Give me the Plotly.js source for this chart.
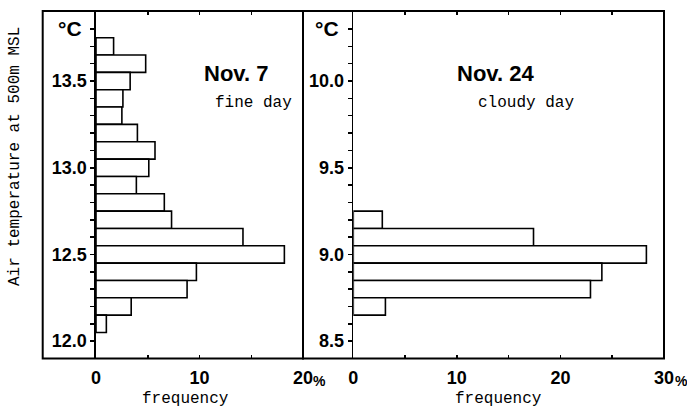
<!DOCTYPE html>
<html>
<head>
<meta charset="utf-8">
<script src="https://cdn.plot.ly/plotly-3.0.1.min.js"></script>
<style>html,body{margin:0;padding:0;background:#fff;}#chart{width:687px;height:407px;}</style>
</head>
<body>
<div id="chart"></div>
<script>
// Nov. 7 (fine day): temperature bin centers (°C) and frequency (%)
var tempsNov7 = [13.7, 13.6, 13.5, 13.4, 13.3, 13.2, 13.1, 13.0, 12.9, 12.8, 12.7, 12.6, 12.5, 12.4, 12.3, 12.2, 12.1];
var freqNov7  = [1.7, 4.8, 3.3, 2.6, 2.5, 4.0, 5.7, 5.1, 3.9, 6.6, 7.3, 14.2, 18.2, 9.7, 8.8, 3.4, 1.0];
// Nov. 24 (cloudy day)
var tempsNov24 = [9.2, 9.1, 9.0, 8.9, 8.8, 8.7];
var freqNov24  = [2.8, 17.4, 28.3, 24.0, 22.9, 3.1];
var xTicksLeft = [0, 10, 20];
var xTicksRight = [0, 10, 20, 30];
var xLabelsLeft = ['0', '10', '20'];
var xLabelsRight = ['0', '10', '20', '30'];

var W = 687, H = 407;
function px(x){ return x / W; }
function py(y){ return 1 - y / H; }

var BOLD = 'Liberation Sans, Arial, sans-serif';
var MONO = 'Liberation Mono, Courier New, monospace';

var barStyle = {color: '#ffffff', line: {color: '#000', width: 1.6}};

var traces = [
  {type: 'bar', orientation: 'h', x: freqNov7, y: tempsNov7, width: 0.1,
   marker: barStyle, xaxis: 'x', yaxis: 'y', hoverinfo: 'none'},
  {type: 'bar', orientation: 'h', x: freqNov24, y: tempsNov24, width: 0.1,
   marker: barStyle, xaxis: 'x2', yaxis: 'y2', hoverinfo: 'none'}
];

var fTop = 11, fBot = 358.5, fL = 42.7, fMid = 303, fR = 664;
var yDom = [py(fBot), py(fTop)];

function yAxis(anchor, r, t0){
  return {
    domain: yDom, anchor: anchor, range: r,
    tick0: t0, dtick: 0.5, tickformat: '.1f',
    ticks: 'outside', ticklen: 4, tickwidth: 1.5, tickcolor: '#000',
    minor: {dtick: 0.1, tick0: t0, ticks: 'outside', ticklen: 4, tickwidth: 1.5, tickcolor: '#000'},
    showline: true, linecolor: '#000', linewidth: 1.6,
    showgrid: false, zeroline: false,
    tickfont: {family: BOLD, size: 18, color: '#000', weight: 'bold'},
    ticklabelstandoff: 0
  };
}
function xAxis(anchor, dom, r, tv, tt){
  return {
    domain: dom, anchor: anchor, range: r,
    tickmode: 'array', tickvals: tv, ticktext: tt,
    ticks: 'inside', ticklen: 4, tickwidth: 1.5, tickcolor: '#000',
    minor: {dtick: 5, ticks: 'inside', ticklen: 4, tickwidth: 1.5, tickcolor: '#000'},
    showline: false, mirror: 'ticks', showgrid: false, zeroline: false,
    tickfont: {family: BOLD, size: 18, color: '#000', weight: 'bold'},
    ticklabelstandoff: 6
  };
}

function ann(x, y, text, font, extra){
  var a = {xref: 'paper', yref: 'paper', x: px(x), y: py(y), text: text, showarrow: false,
           xanchor: 'center', yanchor: 'middle', font: font};
  if (extra) for (var k in extra) a[k] = extra[k];
  return a;
}
var fBoldBig = {family: BOLD, size: 22, color: '#000', weight: 'bold'};
var fDeg = {family: BOLD, size: 21, color: '#000', weight: 'bold'};
var fMono = {family: MONO, size: 16, color: '#000'};
var fPct = {family: BOLD, size: 14, color: '#000', weight: 'bold'};

var layout = {
  width: W, height: H,
  margin: {l: 0, r: 0, t: 0, b: 0},
  paper_bgcolor: '#fff', plot_bgcolor: 'rgba(0,0,0,0)',
  showlegend: false,
  xaxis: xAxis('y', [px(96), px(fMid)], [0, 20], xTicksLeft, xLabelsLeft),
  yaxis: yAxis('x', [11.9, 13.904], 12.0),
  xaxis2: xAxis('y2', [px(353.3), px(fR)], [0, 30], xTicksRight, xLabelsRight),
  yaxis2: yAxis('x2', [8.4, 10.404], 8.5),
  shapes: [
    {type: 'rect', xref: 'paper', yref: 'paper', x0: px(fL), x1: px(fMid), y0: py(fBot), y1: py(fTop),
     line: {color: '#000', width: 2}},
    {type: 'rect', xref: 'paper', yref: 'paper', x0: px(fMid), x1: px(fR), y0: py(fBot), y1: py(fTop),
     line: {color: '#000', width: 2}}
  ],
  annotations: [
    ann(70, 28, '°C', fDeg),
    ann(327, 28, '°C', fDeg),
    ann(236, 73, 'Nov. 7', fBoldBig),
    ann(495, 73, 'Nov. 24', fBoldBig),
    ann(253, 103, 'fine day', fMono),
    ann(526, 103, 'cloudy day', fMono),
    ann(185, 399, 'frequency', fMono),
    ann(499, 399, 'frequency', fMono),
    ann(15, 157, 'Air temperature at 500m MSL', fMono, {textangle: -90}),
    ann(319, 381, '%', fPct),
    ann(681, 381, '%', fPct)
  ]
};

Plotly.newPlot('chart', traces, layout, {staticPlot: true, displayModeBar: false});
</script>
</body>
</html>
